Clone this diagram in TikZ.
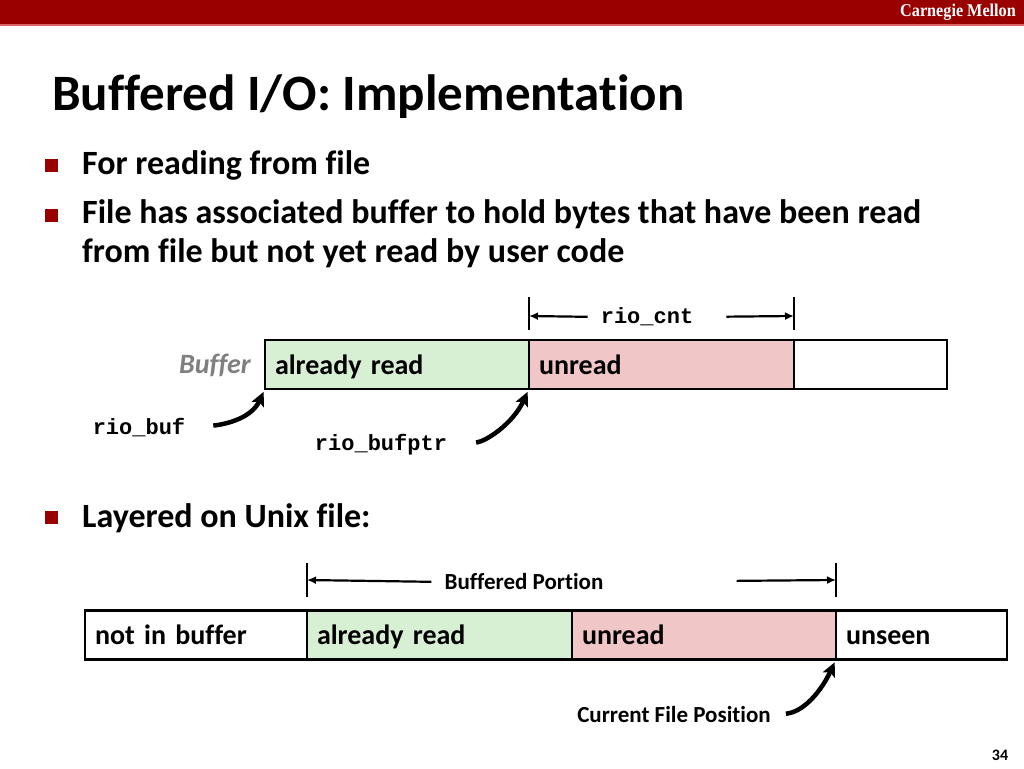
\documentclass[tikz,border=0pt]{standalone}
\usepackage{fontspec}
\setmainfont{Carlito}[Ligatures=CommonOff]
\setmonofont{Liberation Mono}
\newfontfamily\cmufont{Liberation Serif}
\usetikzlibrary{positioning,arrows.meta}
\definecolor{cmured}{HTML}{990000}
\definecolor{cmuline}{HTML}{D9646A}
\definecolor{readgreen}{HTML}{D7EFD2}
\definecolor{unreadpink}{HTML}{F1C6C6}
\definecolor{buflabel}{HTML}{7F7F7F}
\tikzset{
  cell/.style={draw, line width=2.5pt, outer sep=0pt, inner xsep=10pt, inner ysep=0pt,
    minimum height=49pt, text height=24pt, text depth=5pt, anchor=west, align=left,
    font=\fontsize{28}{30}\selectfont\bfseries},
  bullet/.style={fill=cmured, minimum size=13pt, inner sep=0pt},
  bullettext/.style={anchor=base west, inner sep=0pt, align=left,
    font=\fontsize{34}{40}\selectfont\bfseries},
  codelbl/.style={inner sep=0pt, font=\fontsize{22}{24}\selectfont\ttfamily\bfseries},
  smalllbl/.style={inner sep=0pt, font=\fontsize{23}{25}\selectfont\bfseries},
  tick/.style={line width=1.5pt},
  dimarrow/.style={line width=2.2pt, -{Latex[length=9pt,width=8pt]}},
  curvy/.style={line width=4.5pt, -{Stealth[length=14pt,width=13pt,inset=3pt]}}
}
\begin{document}
\begin{tikzpicture}[x=1pt, y=-1pt]
\useasboundingbox (0,0) rectangle (1024,768);
% header bar
\fill[cmured] (0,0) rectangle (1024,24);
\draw[cmuline, line width=1.5pt] (0,25) -- (1024,25);
\node[anchor=east, text=white, inner sep=0pt, xscale=0.9,
  font=\cmufont\fontsize{18}{19}\selectfont\bfseries] (cmu) at (1016,12) {Carnegie Mellon};
% title
\node[anchor=base west, inner sep=0pt, font=\fontsize{51}{56}\selectfont\bfseries] (title) at (52,110)
  {Buffered I/O: Implementation};
% bullets
\node[bullet] (b1) at (51,165) {};
\node[bullettext] (t1) at (82,174) {For reading from file};
\node[bullet] (b2) at (51,215) {};
\node[bullettext] (t2) at (82,223) {File has associated buffer to hold bytes that have been read};
\node[bullettext] (t2b) at (82,262) {from file but not yet read by user code};
\node[bullet] (b3) at (51,517) {};
\node[bullettext] (t3) at (82,527) {Layered on Unix file:};
% buffer
\node[cell, fill=readgreen, text width=244pt] (bufA) at (265,364.5) {already read};
\node[cell, fill=unreadpink, text width=245pt] (bufB) at (bufA.east) {unread};
\node[cell, fill=white, text width=133pt] (bufC) at (bufB.east) {};
\node[anchor=east, inner sep=0pt, text=buflabel,
  font=\fontsize{28}{30}\selectfont\bfseries\itshape] (buflbl) at (251,365) {Buffer};
% rio_cnt
\coordinate (cntL) at (529,316);
\coordinate (cntR) at (794,316);
\draw[tick] (529,297) -- (529,330);
\draw[tick] (794,297) -- (794,330);
\node[codelbl] (cnt) at (647,317) {rio\_cnt};
\draw[dimarrow, shorten <=13pt] (cnt.west) -- (cntL);
\draw[dimarrow, shorten <=33pt] (cnt.east) -- (cntR);
% pointers
\node[codelbl] (rbuf) at (139,428) {rio\_buf};
\draw[curvy, shorten <=28pt, shorten >=3pt] (rbuf.east) to[out=5, in=245] (bufA.south west);
\node[codelbl] (rptr) at (381,445) {rio\_bufptr};
\draw[curvy, shorten <=29pt, shorten >=3pt] (rptr.east) to[out=5, in=245] (bufB.south west);
% unix file
\node[cell, fill=white, text width=202pt] (fileA) at (85,635) {not in buffer};
\node[cell, fill=readgreen, text width=245pt] (fileB) at (fileA.east) {already read};
\node[cell, fill=unreadpink, text width=244pt] (fileC) at (fileB.east) {unread};
\node[cell, fill=white, text width=151pt] (fileD) at (fileC.east) {unseen};
% buffered portion
\coordinate (bpL) at (307,580);
\coordinate (bpR) at (836,580);
\draw[tick] (307,563) -- (307,597);
\draw[tick] (836,563) -- (836,597);
\node[smalllbl] (bp) at (524,582) {Buffered Portion};
\draw[dimarrow, shorten <=13pt] (bp.west) -- (bpL);
\draw[dimarrow, shorten <=133pt] (bp.east) -- (bpR);
% file position
\node[smalllbl] (pos) at (674,715) {Current File Position};
\draw[curvy, shorten <=15pt, shorten >=3pt] (pos.east) to[out=5, in=245] (fileD.south west);
% page number
\node[inner sep=0pt, font=\fontsize{16}{18}\selectfont\bfseries] (page) at (1000,755) {34};
\end{tikzpicture}
\end{document}
